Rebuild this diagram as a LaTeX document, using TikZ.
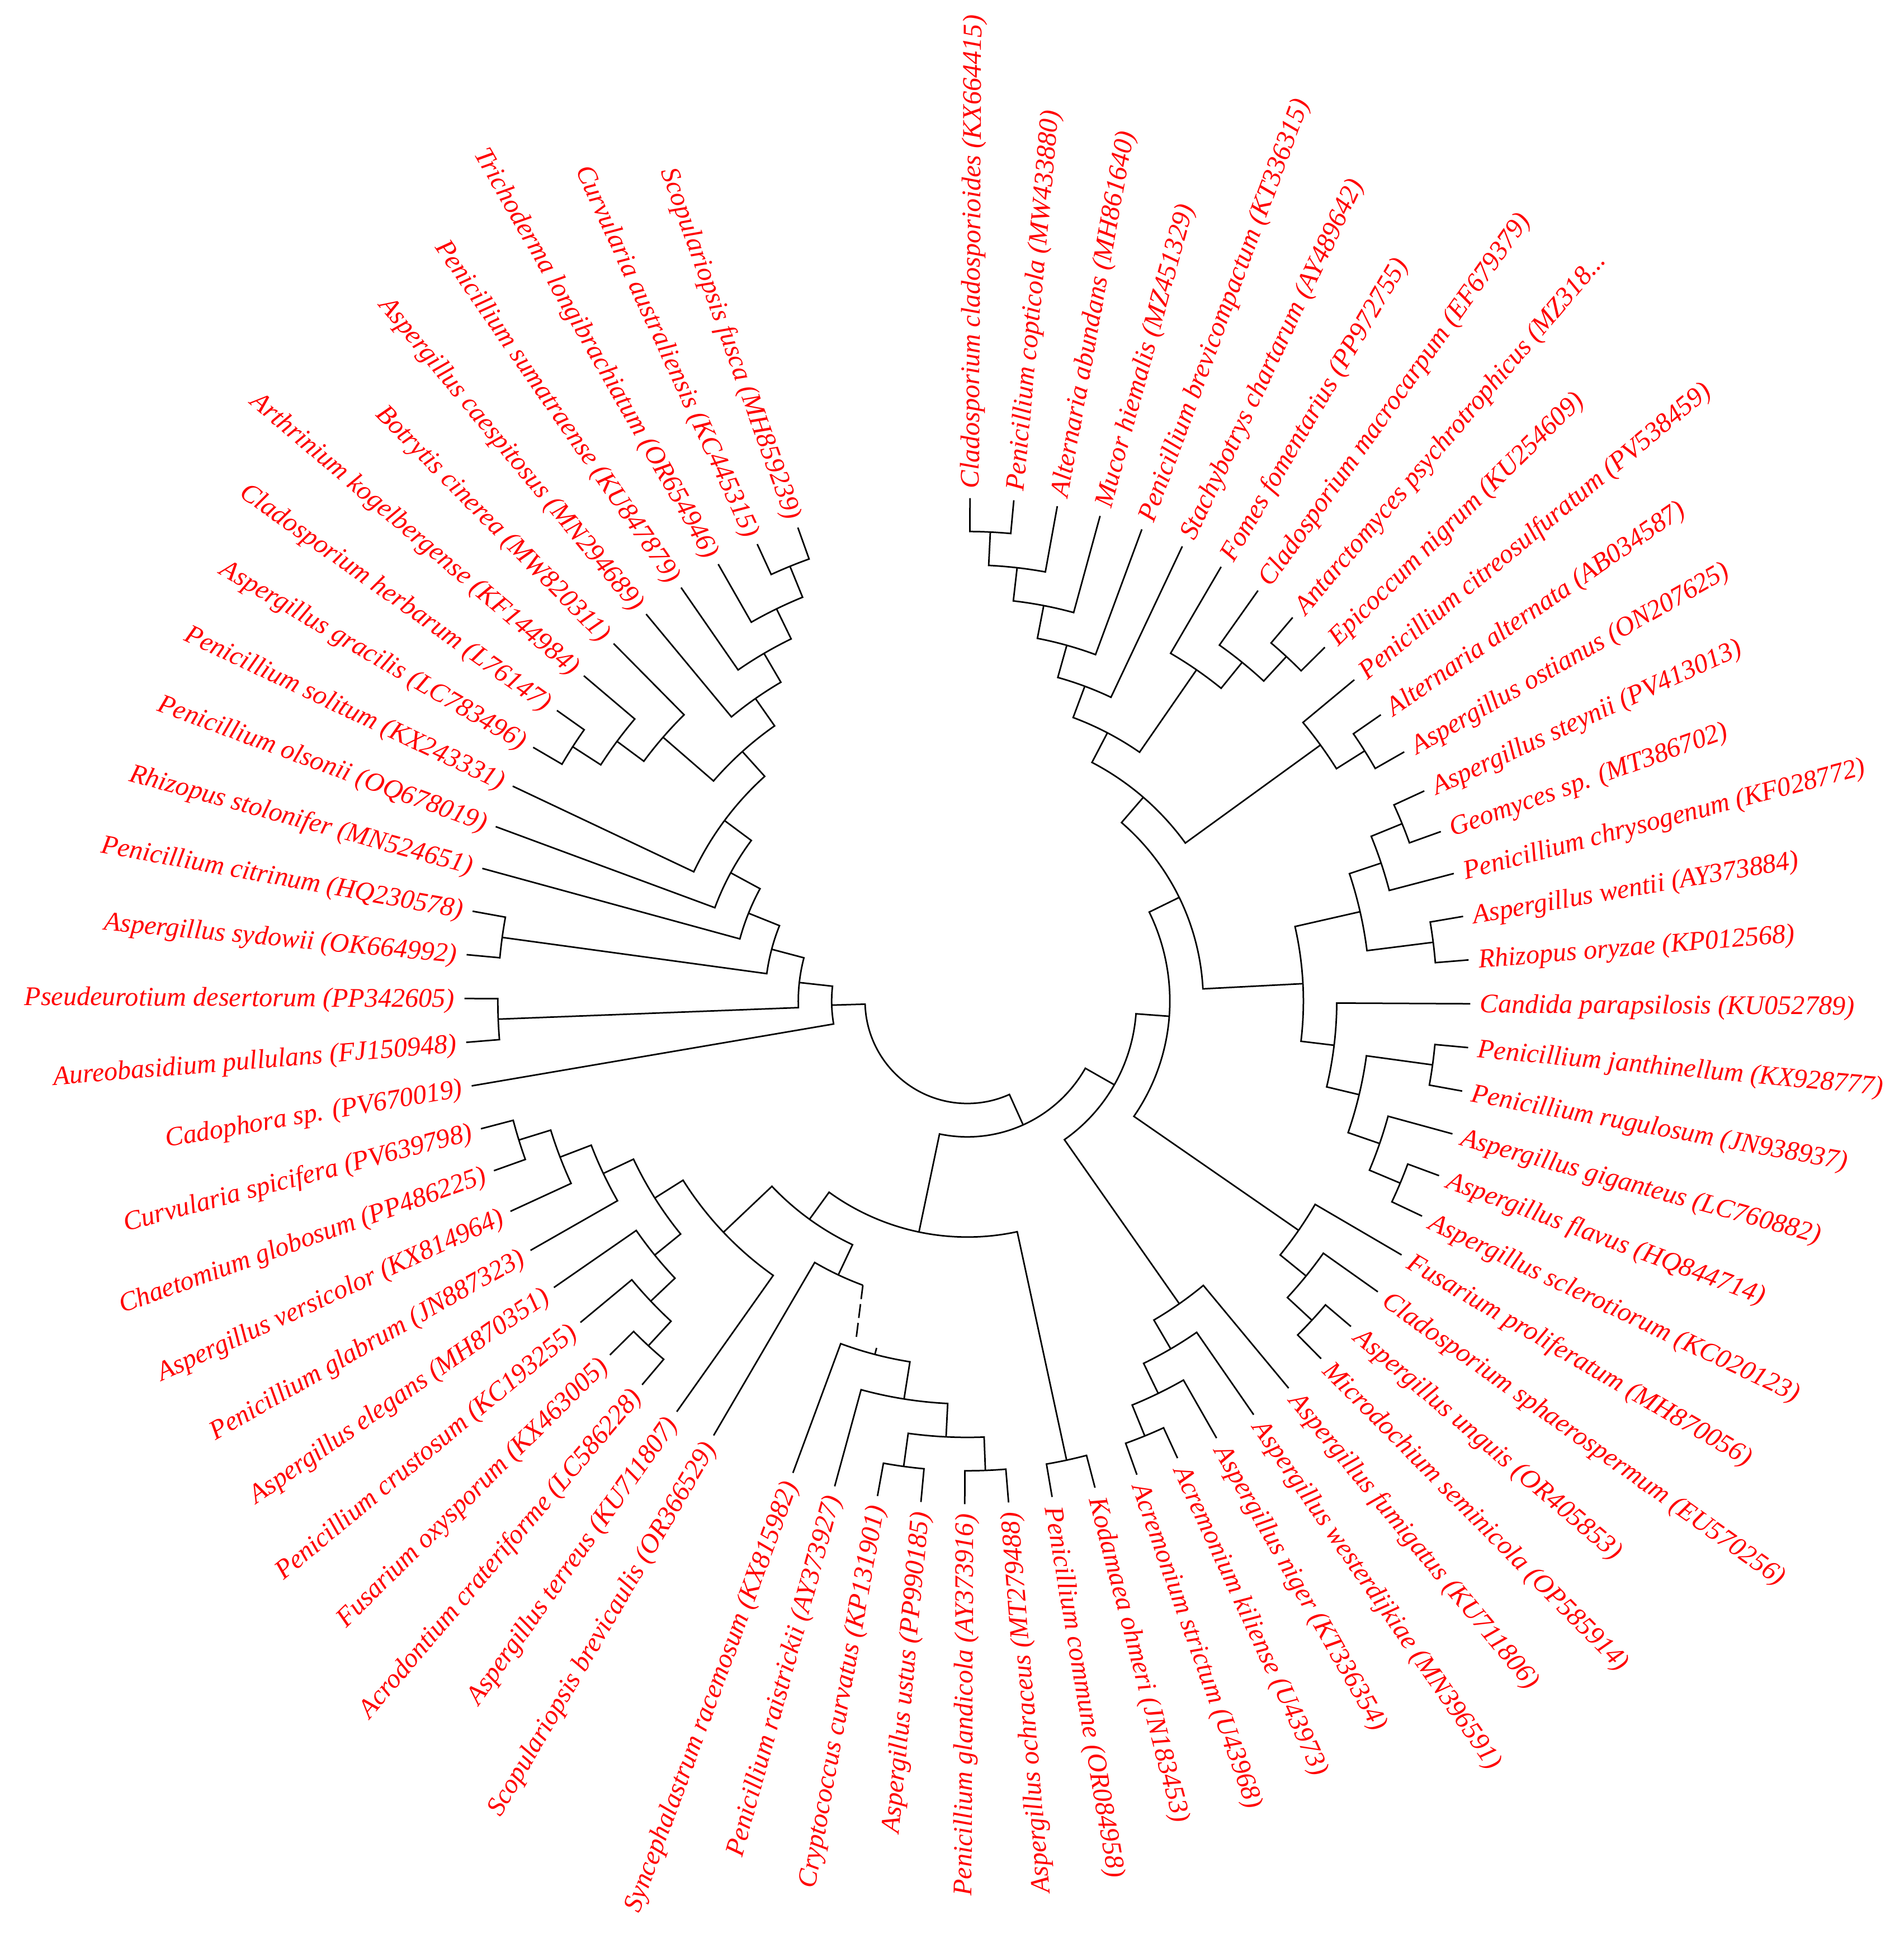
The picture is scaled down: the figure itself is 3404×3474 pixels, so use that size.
\documentclass[tikz,border=0pt]{standalone}
\usepackage{fontspec}
\setmainfont{Liberation Serif}
\definecolor{labred}{RGB}{255,0,0}
\def\T{899.4}
\def\hA{839.7}\def\hB{780}\def\hC{720.3}\def\hD{660.6}\def\hE{600.9}\def\hF{541.2}
\def\hG{481.5}\def\hH{421.8}\def\hI{362.1}\def\hJ{302.4}\def\hK{242.7}\def\hL{183}
\def\LR{916}
% internal node: name, angle, radius, child1 angle, child1 radius, child2 angle, child2 radius
\newcommand\nd[7]{%
  \coordinate (#1) at (#2:#3);
  \draw[br] (#4:#5) -- (#4:#3) arc[start angle=#4, end angle=#6, radius=#3*0.2pt] -- (#6:#7);}
\newcommand\lfR[3]{\node[lab,anchor=west,rotate=#2] (#1) at (#2:\LR) {#3};}
\newcommand\lfL[3]{\node[lab,anchor=east,rotate=#2+180] (#1) at (#2:\LR) {#3};}
\tikzset{
  br/.style={line width=0.55pt, black},
  lab/.style={text=labred, font=\fontsize{9.64}{11}\selectfont\itshape, inner sep=0pt, text height=6.4pt, text depth=0pt}
}
\begin{document}
\begin{tikzpicture}[x=0.2pt,y=0.2pt]
\useasboundingbox (-1730,-1684) rectangle (1674,1790);
% ---------- upper right clade
\nd{D12}{87.2}{\hA}{89.7}{\T}{84.7}{\T}
\nd{D11}{83.45}{\hB}{87.2}{\hA}{79.7}{\T}
\nd{D10}{79.075}{\hC}{83.45}{\hB}{74.7}{\T}
\nd{D9}{74.3875}{\hD}{79.075}{\hC}{69.7}{\T}
\nd{D8}{69.544}{\hE}{74.3875}{\hD}{64.7}{\T}
\nd{D7}{47.2}{\hA}{49.7}{\T}{44.7}{\T}
\nd{D6}{50.95}{\hB}{54.7}{\T}{47.2}{\hA}
\nd{D5}{55.325}{\hC}{59.7}{\T}{50.95}{\hB}
\nd{D4}{62.434}{\hF}{69.544}{\hE}{55.325}{\hC}
\nd{D3}{32.2}{\hA}{34.7}{\T}{29.7}{\T}
\nd{D2}{35.95}{\hB}{39.7}{\T}{32.2}{\hA}
\nd{D1}{49.192}{\hG}{62.434}{\hF}{35.95}{\hB}
\nd{C7}{22.2}{\hA}{24.7}{\T}{19.7}{\T}
\nd{C6}{18.45}{\hB}{22.2}{\hA}{14.7}{\T}
\nd{C8}{7.2}{\hA}{9.7}{\T}{4.7}{\T}
\nd{C5}{12.825}{\hC}{18.45}{\hB}{7.2}{\hA}
\nd{E3}{-7.8}{\hA}{-5.3}{\T}{-10.3}{\T}
\nd{E5}{-22.8}{\hA}{-20.3}{\T}{-25.3}{\T}
\nd{E4}{-19.05}{\hB}{-15.3}{\T}{-22.8}{\hA}
\nd{E2}{-13.425}{\hC}{-7.8}{\hA}{-19.05}{\hB}
\nd{E1}{-6.8625}{\hD}{-0.3}{\T}{-13.425}{\hC}
\nd{C4}{2.981}{\hE}{12.825}{\hC}{-6.8625}{\hD}
\nd{C3}{26.087}{\hH}{49.192}{\hG}{2.981}{\hE}
\nd{F3}{-42.8}{\hA}{-40.3}{\T}{-45.3}{\T}
\nd{F2}{-39.05}{\hB}{-35.3}{\T}{-42.8}{\hA}
\nd{F1}{-34.675}{\hC}{-30.3}{\T}{-39.05}{\hB}
\nd{C2}{-4.294}{\hI}{26.087}{\hH}{-34.675}{\hC}
\nd{G4}{-67.8}{\hA}{-65.3}{\T}{-70.3}{\T}
\nd{G3}{-64.05}{\hB}{-60.3}{\T}{-67.8}{\hA}
\nd{G2}{-59.675}{\hC}{-55.3}{\T}{-64.05}{\hB}
\nd{G1}{-54.9875}{\hD}{-50.3}{\T}{-59.675}{\hC}
\nd{C1}{-29.641}{\hJ}{-4.294}{\hI}{-54.9875}{\hD}
% ---------- bottom clade
\nd{H1}{-77.8}{\hA}{-75.3}{\T}{-80.3}{\T}
\nd{B8}{-87.8}{\hA}{-85.3}{\T}{-90.3}{\T}
\nd{B7}{-97.8}{\hA}{-95.3}{\T}{-100.3}{\T}
\nd{B6}{-92.8}{\hB}{-87.8}{\hA}{-97.8}{\hA}
\nd{B5}{-99.05}{\hC}{-92.8}{\hB}{-105.3}{\T}
\nd{B4}{-104.675}{653}{-110.3}{\T}{-99.05}{\hC}
\draw[br] (-104.675:641) -- (-104.675:653);
\coordinate (B3) at (-115.25:\hF);
\draw[br] (-120.3:\T) -- (-120.3:\hF) arc[start angle=-120.3, end angle=-110.2, radius=\hF*0.2pt];
\coordinate (Bend) at (-110.2:\hF);
\coordinate (Ytop) at (-108.2:638);
\draw[br, dash pattern=on 5pt off 1.8pt] (Bend) -- (Ytop);
\nd{B13}{-132.8}{\hA}{-130.3}{\T}{-135.3}{\T}
\nd{B12}{-136.55}{\hB}{-140.3}{\T}{-132.8}{\hA}
\nd{B11}{-140.925}{\hC}{-145.3}{\T}{-136.55}{\hB}
\nd{B16}{-162.8}{\hA}{-160.3}{\T}{-165.3}{\T}
\nd{B15}{-159.05}{\hB}{-155.3}{\T}{-162.8}{\hA}
\nd{B14}{-154.675}{\hC}{-150.3}{\T}{-159.05}{\hB}
\nd{B10}{-147.8}{\hD}{-154.675}{\hC}{-140.925}{\hC}
\nd{B9}{-136.55}{\hE}{-147.8}{\hD}{-125.3}{\T}
\nd{B2}{-125.9}{\hG}{-136.55}{\hE}{-115.25}{\hF}
\nd{B1}{-101.85}{\hH}{-125.9}{\hG}{-77.8}{\hA}
\nd{R1}{-65.746}{\hK}{-101.85}{\hH}{-29.641}{\hJ}
% ---------- left clade
\nd{L14}{-247.8}{\hA}{-245.3}{\T}{-250.3}{\T}
\nd{L13}{-244.05}{\hB}{-247.8}{\hA}{-240.3}{\T}
\nd{L12}{-239.675}{\hC}{-244.05}{\hB}{-235.3}{\T}
\nd{L11}{-234.9875}{\hD}{-239.675}{\hC}{-230.3}{\T}
\nd{L10}{-212.8}{\hA}{-210.3}{\T}{-215.3}{\T}
\nd{L9}{-216.55}{\hB}{-220.3}{\T}{-212.8}{\hA}
\nd{L8}{-220.925}{\hC}{-225.3}{\T}{-216.55}{\hB}
\nd{L7}{-227.956}{\hE}{-234.9875}{\hD}{-220.925}{\hC}
\nd{L6}{-216.628}{\hF}{-227.956}{\hE}{-205.3}{\T}
\nd{L5}{-208.464}{\hG}{-216.628}{\hF}{-200.3}{\T}
\nd{L4}{-201.882}{\hH}{-208.464}{\hG}{-195.3}{\T}
\nd{LP}{-187.8}{\hA}{-185.3}{\T}{-190.3}{\T}
\nd{L3}{-194.841}{\hI}{-201.882}{\hH}{-187.8}{\hA}
\nd{LQ}{-177.8}{\hA}{-175.3}{\T}{-180.3}{\T}
\nd{L1}{-186.32}{\hJ}{-194.841}{\hI}{-177.8}{\hA}
\nd{L2}{-178.31}{\hK}{-186.32}{\hJ}{-170.3}{\T}
% ---------- root
\nd{R0}{-122.03}{\hL}{-65.746}{\hK}{-178.31}{\hK}
% ---------- labels
\lfR{n1}{89.7}{Cladosporium cladosporioides (KX664415)}
\lfR{n2}{84.7}{Penicillium copticola (MW433880)}
\lfR{n3}{79.7}{Alternaria abundans (MH861640)}
\lfR{n4}{74.7}{Mucor hiemalis (MZ451329)}
\lfR{n5}{69.7}{Penicillium brevicompactum (KT336315)}
\lfR{n6}{64.7}{Stachybotrys chartarum (AY489642)}
\lfR{n7}{59.7}{Fomes fomentarius (PP972755)}
\lfR{n8}{54.7}{Cladosporium macrocarpum (EF679379)}
\lfR{n9}{49.7}{Antarctomyces psychrotrophicus (MZ318...}
\lfR{n10}{44.7}{Epicoccum nigrum (KU254609)}
\lfR{n11}{39.7}{Penicillium citreosulfuratum (PV538459)}
\lfR{n12}{34.7}{Alternaria alternata (AB034587)}
\lfR{n13}{29.7}{Aspergillus ostianus (ON207625)}
\lfR{n14}{24.7}{Aspergillus steynii (PV413013)}
\lfR{n15}{19.7}{Geomyces sp. (MT386702)}
\lfR{n16}{14.7}{Penicillium chrysogenum (KF028772)}
\lfR{n17}{9.7}{Aspergillus wentii (AY373884)}
\lfR{n18}{4.7}{Rhizopus oryzae (KP012568)}
\lfR{n19}{-0.3}{Candida parapsilosis (KU052789)}
\lfR{n20}{-5.3}{Penicillium janthinellum (KX928777)}
\lfR{n21}{-10.3}{Penicillium rugulosum (JN938937)}
\lfR{n22}{-15.3}{Aspergillus giganteus (LC760882)}
\lfR{n23}{-20.3}{Aspergillus flavus (HQ844714)}
\lfR{n24}{-25.3}{Aspergillus sclerotiorum (KC020123)}
\lfR{n25}{-30.3}{Fusarium proliferatum (MH870056)}
\lfR{n26}{-35.3}{Cladosporium sphaerospermum (EU570256)}
\lfR{n27}{-40.3}{Aspergillus unguis (OR405853)}
\lfR{n28}{-45.3}{Microdochium seminicola (OP585914)}
\lfR{n29}{-50.3}{Aspergillus fumigatus (KU711806)}
\lfR{n30}{-55.3}{Aspergillus westerdijkiae (MN396591)}
\lfR{n31}{-60.3}{Aspergillus niger (KT336354)}
\lfR{n32}{-65.3}{Acremonium kiliense (U43973)}
\lfR{n33}{-70.3}{Acremonium strictum (U43968)}
\lfR{n34}{-75.3}{Kodamaea ohmeri (JN183453)}
\lfR{n35}{-80.3}{Penicillium commune (OR084958)}
\lfL{n36}{-85.3}{Aspergillus ochraceus (MT279488)}
\lfL{n37}{-90.3}{Penicillium glandicola (AY373916)}
\lfL{n38}{-95.3}{Aspergillus ustus (PP990185)}
\lfL{n39}{-100.3}{Cryptococcus curvatus (KP131901)}
\lfL{n40}{-105.3}{Penicillium raistrickii (AY373927)}
\lfL{n41}{-110.3}{Syncephalastrum racemosum (KX815982)}
\lfL{n42}{-120.3}{Scopulariopsis brevicaulis (OR366529)}
\lfL{n43}{-125.3}{Aspergillus terreus (KU711807)}
\lfL{n44}{-130.3}{Acrodontium crateriforme (LC586228)}
\lfL{n45}{-135.3}{Fusarium oxysporum (KX463005)}
\lfL{n46}{-140.3}{Penicillium crustosum (KC193255)}
\lfL{n47}{-145.3}{Aspergillus elegans (MH870351)}
\lfL{n48}{-150.3}{Penicillium glabrum (JN887323)}
\lfL{n49}{-155.3}{Aspergillus versicolor (KX814964)}
\lfL{n50}{-160.3}{Chaetomium globosum (PP486225)}
\lfL{n51}{-165.3}{Curvularia spicifera (PV639798)}
\lfL{n52}{-170.3}{Cadophora sp. (PV670019)}
\lfL{n53}{-175.3}{Aureobasidium pullulans (FJ150948)}
\lfL{n54}{-180.3}{Pseudeurotium desertorum (PP342605)}
\lfL{n55}{-185.3}{Aspergillus sydowii (OK664992)}
\lfL{n56}{-190.3}{Penicillium citrinum (HQ230578)}
\lfL{n57}{-195.3}{Rhizopus stolonifer (MN524651)}
\lfL{n58}{-200.3}{Penicillium olsonii (OQ678019)}
\lfL{n59}{-205.3}{Penicillium solitum (KX243331)}
\lfL{n60}{-210.3}{Aspergillus gracilis (LC783496)}
\lfL{n61}{-215.3}{Cladosporium herbarum (L76147)}
\lfL{n62}{-220.3}{Arthrinium kogelbergense (KF144984)}
\lfL{n63}{-225.3}{Botrytis cinerea (MW820311)}
\lfL{n64}{-230.3}{Aspergillus caespitosus (MN294689)}
\lfL{n65}{-235.3}{Penicillium sumatraense (KU847879)}
\lfL{n66}{-240.3}{Trichoderma longibrachiatum (OR654946)}
\lfL{n67}{-245.3}{Curvularia australiensis (KC445315)}
\lfL{n68}{-250.3}{Scopulariopsis fusca (MH859239)}
\end{tikzpicture}
\end{document}
